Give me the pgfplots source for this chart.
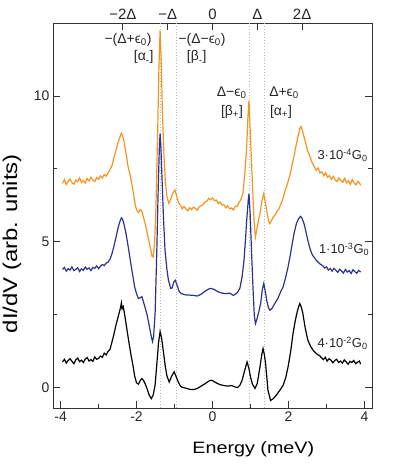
\documentclass[border=0pt]{standalone}
\usepackage{fontspec}
\setmainfont{Liberation Sans}
\newfontfamily\labfont[FakeStretch=1.2]{Liberation Sans}
\usepackage{pgfplots}
\pgfplotsset{compat=1.18}

\definecolor{traceorange}{HTML}{F7941E}
\definecolor{tracenavy}{HTML}{2E3192}
\definecolor{axisgray}{HTML}{333333}

\pgfplotstableread{
x y
-3.95 0.88
-3.90 0.97
-3.85 0.84
-3.80 0.93
-3.75 0.99
-3.70 0.90
-3.65 0.82
-3.60 0.95
-3.55 1.01
-3.50 0.89
-3.45 0.94
-3.40 0.86
-3.35 0.98
-3.30 1.03
-3.25 0.91
-3.20 0.96
-3.15 0.90
-3.10 1.05
-3.05 0.97
-3.00 1.00
-2.95 1.08
-2.90 1.04
-2.85 1.18
-2.80 1.12
-2.75 1.24
-2.70 1.30
-2.65 1.55
-2.60 1.80
-2.55 2.10
-2.50 2.35
-2.45 2.60
-2.42 2.75
-2.40 2.90
-2.38 2.70
-2.35 2.78
-2.30 2.40
-2.25 1.96
-2.20 1.55
-2.15 1.15
-2.10 0.80
-2.05 0.40
-2.00 0.16
-1.95 0.12
-1.90 0.25
-1.86 0.31
-1.82 0.25
-1.77 0.12
-1.72 -0.05
-1.67 -0.25
-1.61 -0.38
-1.56 -0.25
-1.51 0.10
-1.46 0.90
-1.42 1.55
-1.38 1.92
-1.34 1.70
-1.29 1.20
-1.24 0.70
-1.20 0.40
-1.14 0.19
-1.08 0.38
-1.01 0.54
-0.95 0.35
-0.90 0.19
-0.85 0.06
-0.80 0.01
-0.70 -0.02
-0.60 -0.06
-0.50 -0.07
-0.40 -0.03
-0.30 0.05
-0.20 0.13
-0.10 0.22
-0.05 0.25
0.00 0.24
0.10 0.16
0.20 0.10
0.30 0.07
0.40 0.05
0.50 0.07
0.60 0.02
0.66 0.00
0.72 0.08
0.78 0.25
0.84 0.55
0.91 0.88
0.96 0.65
1.00 0.37
1.05 0.12
1.12 -0.03
1.18 0.15
1.25 0.71
1.30 1.15
1.33 1.34
1.37 1.10
1.40 0.80
1.46 -0.09
1.53 -0.44
1.60 -0.38
1.68 -0.26
1.77 -0.10
1.86 0.08
1.93 0.35
1.99 0.71
2.06 1.25
2.12 1.85
2.18 2.30
2.24 2.65
2.28 2.82
2.30 2.88
2.34 2.75
2.38 2.54
2.44 2.05
2.51 1.63
2.58 1.42
2.65 1.28
2.72 1.18
2.78 1.12
2.82 1.10
2.87 1.02
2.92 0.96
2.97 1.04
3.02 0.91
3.07 0.99
3.12 0.94
3.17 0.85
3.22 0.93
3.27 0.97
3.32 0.86
3.37 0.91
3.42 0.84
3.47 0.95
3.52 0.88
3.57 0.80
3.62 0.90
3.67 0.86
3.72 0.93
3.77 0.82
3.82 0.87
3.87 0.91
3.90 0.80
}\tracehigh

\pgfplotstableread{
x y
-3.95 4.05
-3.90 4.12
-3.85 3.99
-3.80 4.08
-3.75 4.03
-3.70 4.14
-3.65 4.01
-3.60 4.05
-3.55 4.11
-3.50 3.98
-3.45 4.07
-3.40 4.02
-3.35 4.13
-3.30 4.06
-3.25 4.10
-3.20 4.01
-3.15 4.12
-3.10 4.09
-3.05 4.17
-3.00 4.08
-2.95 4.16
-2.90 4.22
-2.85 4.18
-2.80 4.27
-2.75 4.30
-2.70 4.40
-2.65 4.58
-2.60 4.82
-2.55 5.10
-2.50 5.40
-2.45 5.65
-2.40 5.82
-2.37 5.78
-2.33 5.60
-2.28 5.30
-2.21 4.75
-2.15 4.25
-2.10 3.85
-2.05 3.45
-2.00 3.22
-1.95 3.05
-1.90 3.08
-1.86 3.12
-1.82 2.95
-1.77 2.72
-1.72 2.48
-1.67 2.15
-1.62 1.80
-1.58 1.58
-1.55 1.75
-1.51 2.60
-1.47 4.50
-1.43 6.80
-1.40 8.20
-1.38 8.71
-1.36 8.30
-1.33 7.20
-1.29 5.80
-1.25 4.70
-1.20 4.05
-1.16 3.68
-1.10 3.40
-1.06 3.42
-1.02 3.62
-0.98 3.68
-0.93 3.50
-0.88 3.30
-0.82 3.22
-0.72 3.18
-0.60 3.17
-0.50 3.16
-0.40 3.14
-0.30 3.20
-0.20 3.30
-0.10 3.38
-0.04 3.40
0.05 3.36
0.15 3.28
0.25 3.24
0.35 3.22
0.45 3.24
0.55 3.16
0.65 3.25
0.72 3.40
0.78 3.80
0.83 4.37
0.87 5.10
0.90 5.73
0.94 6.40
0.96 6.65
0.99 6.00
1.03 4.60
1.07 3.30
1.10 2.50
1.13 2.19
1.17 2.35
1.22 2.60
1.27 2.90
1.31 3.35
1.35 3.57
1.39 3.30
1.43 2.98
1.47 2.75
1.51 2.65
1.57 2.72
1.64 2.88
1.72 3.05
1.80 3.30
1.86 3.45
1.93 3.80
1.99 4.14
2.05 4.55
2.10 4.94
2.15 5.30
2.21 5.62
2.26 5.78
2.32 5.87
2.36 5.80
2.41 5.62
2.46 5.35
2.51 5.05
2.57 4.75
2.63 4.55
2.73 4.37
2.82 4.25
2.90 4.18
2.95 4.10
3.00 4.14
3.05 4.03
3.10 4.08
3.15 3.99
3.20 4.09
3.25 4.02
3.30 3.95
3.35 4.06
3.40 3.99
3.45 3.93
3.50 4.05
3.55 3.96
3.60 4.01
3.65 3.91
3.70 4.04
3.75 3.97
3.80 3.92
3.85 4.02
3.90 3.96
}\tracemid

\pgfplotstableread{
x y
-3.95 7.00
-3.90 7.13
-3.85 6.96
-3.80 7.08
-3.75 7.15
-3.70 7.02
-3.65 6.97
-3.60 7.12
-3.55 7.06
-3.50 7.19
-3.45 7.03
-3.40 7.10
-3.35 7.01
-3.30 7.17
-3.25 7.08
-3.20 7.21
-3.15 7.11
-3.10 7.06
-3.05 7.20
-3.00 7.14
-2.95 7.26
-2.90 7.18
-2.85 7.31
-2.80 7.25
-2.75 7.36
-2.70 7.48
-2.65 7.60
-2.60 7.85
-2.55 8.10
-2.50 8.35
-2.45 8.55
-2.40 8.72
-2.37 8.65
-2.33 8.45
-2.28 8.05
-2.22 7.55
-2.17 7.30
-2.12 6.95
-2.08 6.65
-2.04 6.30
-2.00 6.10
-1.95 6.00
-1.90 6.10
-1.86 6.05
-1.82 5.85
-1.77 5.60
-1.72 5.30
-1.67 5.00
-1.63 4.75
-1.59 4.50
-1.56 4.48
-1.53 4.90
-1.50 5.70
-1.47 7.20
-1.44 9.00
-1.41 11.00
-1.38 12.25
-1.35 11.20
-1.32 9.50
-1.28 8.00
-1.24 7.05
-1.20 6.55
-1.15 6.32
-1.10 6.45
-1.05 6.65
-0.99 6.78
-0.94 6.55
-0.89 6.32
-0.84 6.25
-0.80 6.13
-0.75 6.21
-0.70 6.12
-0.65 6.06
-0.60 6.17
-0.55 6.10
-0.50 6.19
-0.45 6.14
-0.40 6.08
-0.35 6.20
-0.30 6.24
-0.25 6.27
-0.20 6.36
-0.15 6.39
-0.10 6.49
-0.05 6.44
0.00 6.50
0.05 6.41
0.10 6.43
0.15 6.31
0.20 6.36
0.25 6.26
0.30 6.27
0.35 6.16
0.40 6.23
0.45 6.13
0.50 6.16
0.55 6.09
0.60 6.21
0.65 6.22
0.70 6.35
0.75 6.45
0.80 6.65
0.85 7.30
0.90 8.25
0.93 9.20
0.96 9.85
0.99 8.90
1.03 7.68
1.07 6.40
1.10 5.60
1.13 5.16
1.17 5.45
1.21 5.75
1.25 5.97
1.30 6.40
1.35 6.65
1.39 6.35
1.44 5.97
1.48 5.70
1.51 5.62
1.55 5.72
1.60 5.85
1.65 5.92
1.70 6.05
1.75 6.12
1.80 6.30
1.85 6.45
1.90 6.70
1.95 6.90
2.00 7.10
2.05 7.35
2.10 7.65
2.15 7.95
2.20 8.30
2.25 8.60
2.30 8.88
2.33 8.95
2.37 8.80
2.41 8.60
2.46 8.35
2.51 8.10
2.56 7.95
2.61 7.75
2.66 7.62
2.73 7.45
2.78 7.53
2.83 7.36
2.88 7.40
2.93 7.26
2.98 7.37
3.03 7.21
3.08 7.27
3.13 7.14
3.18 7.24
3.23 7.12
3.28 7.06
3.33 7.19
3.38 7.10
3.43 7.04
3.48 7.17
3.53 7.02
3.58 7.09
3.63 6.97
3.68 7.13
3.73 7.01
3.78 6.95
3.83 7.07
3.88 6.99
3.90 6.93
}\tracelow

\begin{document}
\begin{tikzpicture}
\pgfplotsset{
  every axis/.append style={
    scale only axis, width=319bp, height=385bp,
    xmin=-4.2, xmax=4.2, ymin=-0.7, ymax=12.5,
    axis line style={axisgray, line width=0.8pt},
    tick style={axisgray, line width=0.8pt},
    tick align=inside,
    major tick length=7bp, minor tick length=4bp,
    /pgf/number format/assume math mode=true,
    ticklabel style={font=\fontsize{14}{14}\selectfont, text=black!85},
  },
}
\begin{axis}[
  axis x line*=top, axis y line=none,
  xtick={-2.36,-1.18,0,1.18,2.36},
  xticklabels={−2Δ,−Δ,0,Δ,2Δ},
  xticklabel style={font=\fontsize{15}{15}\selectfont},
]
\end{axis}
\begin{axis}[
  xtick pos=bottom, ytick pos=both,
  xtick={-4,-2,0,2,4}, minor xtick={-3,-1,1,3},
  ytick={0,5,10}, minor ytick={2.5,7.5},
  xlabel={\labfont\fontsize{16.5}{16.5}\selectfont Energy (meV)},
  ylabel={\labfont\fontsize{20}{20}\selectfont dI/dV (arb. units)},
  xlabel style={at={(axis description cs:0.628,-0.117)}, anchor=base},
  ylabel style={at={(axis description cs:-0.129,0.427)}, anchor=center},
  every node/.append style={text=black!85},
]
% dotted reference lines at the four resonances
\addplot[gray!55, dotted, line width=0.9pt] coordinates {(-1.38,-0.7) (-1.38,12.5)};
\addplot[gray!55, dotted, line width=0.9pt] coordinates {(-0.96,-0.7) (-0.96,12.5)};
\addplot[gray!55, dotted, line width=0.9pt] coordinates {(0.96,-0.7) (0.96,12.5)};
\addplot[gray!55, dotted, line width=0.9pt] coordinates {(1.38,-0.7) (1.38,12.5)};

\addplot[black, line width=1.2pt] table {\tracehigh};
\addplot[tracenavy, line width=1.2pt] table {\tracemid};
\addplot[traceorange, line width=1.2pt] table {\tracelow};

\begin{scope}[every node/.style={font=\fontsize{14}{14}\selectfont, inner sep=0pt, text=black!85}]
\node[anchor=base east] at (axis cs:-1.6,11.8) {−(Δ+ϵ\textsubscript{0})};
\node[anchor=base east] at (axis cs:-1.55,11.2) {[α\textsubscript{-}]};
\node[anchor=base west] at (axis cs:-0.9,11.8) {−(Δ−ϵ\textsubscript{0})};
\node[anchor=base west] at (axis cs:-0.68,11.2) {[β\textsubscript{-}]};
\node[anchor=base east] at (axis cs:0.9,9.97) {Δ−ϵ\textsubscript{0}};
\node[anchor=base east] at (axis cs:0.81,9.34) {[β\textsubscript{+}]};
\node[anchor=base west] at (axis cs:1.49,9.97) {Δ+ϵ\textsubscript{0}};
\node[anchor=base west] at (axis cs:1.51,9.34) {[α\textsubscript{+}]};
\end{scope}
\begin{scope}[every node/.style={font=\fontsize{13}{13}\selectfont, inner sep=0pt, anchor=base west, text=black!85}]
\node at (axis cs:2.76,7.82) {3·10\textsuperscript{-4}G\textsubscript{0}};
\node at (axis cs:2.80,4.60) {1·10\textsuperscript{-3}G\textsubscript{0}};
\node at (axis cs:2.76,1.37) {4·10\textsuperscript{-2}G\textsubscript{0}};
\end{scope}
\end{axis}
\pgfresetboundingbox
\path (current axis.south west) ++(-53bp,-57bp) rectangle ++(399bp,465bp);
\end{tikzpicture}
\end{document}
